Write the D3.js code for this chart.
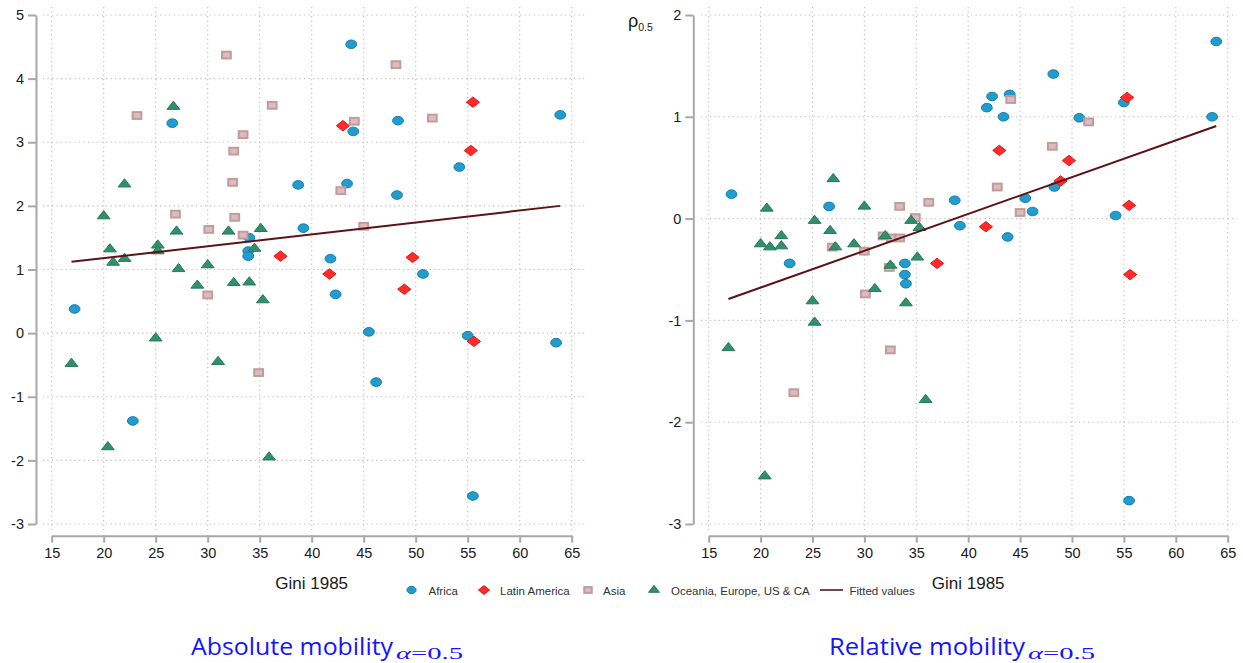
<!DOCTYPE html>
<html><head><meta charset="utf-8">
<script src="https://cdn.jsdelivr.net/npm/d3@7"></script>
<style>
html,body{margin:0;padding:0;background:#fff;}
svg{display:block;}
</style></head>
<body>
<svg id="chart" width="1243" height="663"></svg>
<script>
// ---- Data (Gini 1985, absolute mobility, relative mobility) ----
const africaGini = [17.2, 22.8, 26.6, 33.9, 33.9, 34.0, 38.7, 39.2, 41.8, 42.3, 43.4, 43.8, 44.0, 45.5, 46.2, 48.2, 48.3, 50.7, 54.2, 55.0, 55.5, 63.5, 63.9];
const africaAbs  = [0.38, -1.38, 3.30, 1.29, 1.21, 1.50, 2.33, 1.65, 1.17, 0.61, 2.35, 4.54, 3.17, 0.02, -0.77, 2.17, 3.34, 0.93, 2.61, -0.04, -2.56, -0.15, 3.43];
const africaRel  = [0.24, -0.44, 0.12, -0.44, -0.55, -0.64, 0.18, -0.07, 1.09, 1.20, 1.00, -0.18, 1.22, 0.20, 0.07, 1.42, 0.31, 0.99, 0.03, 1.14, -2.77, 1.00, 1.74];

const latamGini = [37.0, 41.7, 43.0, 48.9, 49.7, 55.3, 55.5, 55.6];
const latamAbs  = [1.21, 0.93, 3.26, 0.69, 1.19, 2.87, 3.63, -0.13];
const latamRel  = [-0.44, -0.08, 0.67, 0.37, 0.57, 1.19, 0.13, -0.55];

const asiaGini = [23.2, 26.9, 30.0, 30.1, 31.8, 32.4, 32.5, 32.6, 33.4, 33.4, 34.9, 36.2, 42.8, 44.1, 45.0, 48.1, 51.6];
const asiaAbs  = [3.42, 1.87, 0.60, 1.63, 4.37, 2.37, 2.86, 1.82, 3.12, 1.54, -0.62, 3.58, 2.24, 3.33, 1.68, 4.22, 3.38];
const asiaRel  = [-1.71, -0.28, -0.32, -0.74, -0.17, -0.48, -1.29, -0.19, 0.12, -0.19, 0.01, 0.16, 0.31, 1.17, 0.06, 0.71, 0.95];

const oecdGini = [16.9, 20.0, 20.4, 20.6, 20.9, 22.0, 22.0, 25.0, 25.2, 25.2, 26.7, 27.0, 27.2, 29.0, 30.0, 31.0, 32.0, 32.5, 34.0, 34.5, 35.1, 35.3, 35.9];
const oecdAbs  = [-0.48, 1.84, -1.79, 1.32, 1.11, 2.34, 1.17, -0.08, 1.38, 1.29, 3.56, 1.60, 1.01, 0.75, 1.07, -0.45, 1.60, 0.79, 0.80, 1.33, 1.64, 0.52, -1.95];
const oecdRel  = [-1.27, -0.25, -2.53, 0.10, -0.28, -0.17, -0.27, -0.81, -0.02, -1.02, -0.12, 0.39, -0.28, -0.25, 0.12, -0.69, -0.17, -0.46, -0.83, -0.02, -0.38, -0.09, -1.78];

const fitGini = [16.9, 63.9];
const fitAbs  = [1.12, 2.00];
const fitRel  = [-0.79, 0.91];

const xTicks = [15, 20, 25, 30, 35, 40, 45, 50, 55, 60, 65];
const yTicksAbs = [-3, -2, -1, 0, 1, 2, 3, 4, 5];
const yTicksRel = [-3, -2, -1, 0, 1, 2];

const legendLabels = ["Africa", "Latin America", "Asia", "Oceania, Europe, US & CA", "Fitted values"];
const xTitle = "Gini 1985";
const panelTitles = ["Absolute mobility", "Relative mobility"];

// ---- Styles ----
const groups = [
  {key: "africa", gini: africaGini, abs: africaAbs, rel: africaRel, shape: "circle"},
  {key: "latam",  gini: latamGini,  abs: latamAbs,  rel: latamRel,  shape: "diamond"},
  {key: "asia",   gini: asiaGini,   abs: asiaAbs,   rel: asiaRel,   shape: "square"},
  {key: "oecd",   gini: oecdGini,   abs: oecdAbs,   rel: oecdRel,   shape: "triangle"}
];
const fitColor = "#5e1117";
const gridColor = "#bdbdbd";
const axisColor = "#a8a8a8";
const tickFont = "'Liberation Sans', Arial, sans-serif";

const svg = d3.select("#chart");

function drawMarker(g, shape, x, y, scale) {
  const s = scale || 1;
  if (shape === "circle") {
    g.append("ellipse").attr("cx", x).attr("cy", y).attr("rx", 5.4 * s).attr("ry", 4.3 * s)
      .attr("fill", "#229ccc").attr("stroke", "#137fb0").attr("stroke-width", 1);
  } else if (shape === "diamond") {
    const w = 6.6 * s, h = 5.2 * s;
    g.append("path").attr("d", `M${x - w},${y}L${x},${y - h}L${x + w},${y}L${x},${y + h}Z`)
      .attr("fill", "#ff2b2b").attr("stroke", "#e81616").attr("stroke-width", 1);
  } else if (shape === "square") {
    const w = 4.4 * s, h = 3.4 * s;
    g.append("rect").attr("x", x - w).attr("y", y - h).attr("width", 2 * w).attr("height", 2 * h)
      .attr("fill", "#dcbcbc").attr("stroke", "#c29c9c").attr("stroke-width", 2);
  } else if (shape === "triangle") {
    const w = 6.4 * s, h = 8.2 * s;
    g.append("path").attr("d", `M${x - w},${y + h / 3}L${x + w},${y + h / 3}L${x},${y - 2 * h / 3}Z`)
      .attr("fill", "#31906c").attr("stroke", "#227a58").attr("stroke-width", 1);
  }
}

function panel(cfg) {
  const x = d3.scaleLinear().domain([15, 65]).range(cfg.xRange);
  const y = d3.scaleLinear().domain(cfg.yDomain).range([524, 15]);
  const g = svg.append("g");

  // grid
  const grid = g.append("g");
  grid.selectAll("line.h").data(cfg.yTicks).join("line")
    .attr("x1", cfg.gridX[0]).attr("x2", cfg.gridX[1])
    .attr("y1", d => y(d)).attr("y2", d => y(d))
    .attr("stroke", gridColor).attr("stroke-width", 1.1).attr("stroke-dasharray", "1.2,3.3");
  grid.selectAll("line.v").data(xTicks).join("line")
    .attr("x1", d => x(d)).attr("x2", d => x(d))
    .attr("y1", 7).attr("y2", 530)
    .attr("stroke", gridColor).attr("stroke-width", 1.1).attr("stroke-dasharray", "1.2,3.3");

  // axes
  const yAxis = g.append("g").attr("transform", `translate(${cfg.yAxisX},0)`)
    .call(d3.axisLeft(y).tickValues(cfg.yTicks).tickSize(8).tickSizeOuter(0).tickPadding(4).tickFormat(d3.format("d")));
  const xAxis = g.append("g").attr("transform", `translate(0,535.7)`)
    .call(d3.axisBottom(x).tickValues(xTicks).tickSize(7).tickSizeOuter(0).tickPadding(5).tickFormat(d3.format("d")));
  [yAxis, xAxis].forEach(a => {
    a.select(".domain").attr("stroke", axisColor).attr("stroke-width", 2);
    a.selectAll(".tick line").attr("stroke", axisColor).attr("stroke-width", 2);
    a.selectAll(".tick text").attr("fill", "#1a1a1a").style("font-family", tickFont).style("font-size", "14.5px");
  });
  yAxis.selectAll(".tick text").text(d => d < 0 ? "-" + Math.abs(d) : d);

  // x title
  g.append("text").attr("x", (cfg.xRange[0] + cfg.xRange[1]) / 2).attr("y", 589)
    .attr("text-anchor", "middle").attr("fill", "#1a1a1a")
    .style("font-family", tickFont).style("font-size", "17px").text(xTitle);

  // points
  const pts = g.append("g");
  groups.forEach(grp => {
    const vals = grp[cfg.key];
    grp.gini.forEach((gv, i) => drawMarker(pts, grp.shape, x(gv), y(vals[i]), 1));
  });

  // fitted line
  const line = d3.line().x(d => x(d[0])).y(d => y(d[1]));
  g.append("path").datum(fitGini.map((gv, i) => [gv, cfg.fit[i]]))
    .attr("d", line).attr("fill", "none").attr("stroke", fitColor).attr("stroke-width", 2);

  // title
  g.append("text").attr("x", cfg.titleX).attr("y", 655)
    .attr("fill", "#1414ff").style("font-family", "'Open Sans', 'Noto Sans', sans-serif")
    .style("font-size", "24px").attr("textLength", cfg.titleLen).attr("lengthAdjust", "spacingAndGlyphs")
    .text(cfg.title);
  const sub = g.append("text").attr("x", cfg.titleX + cfg.titleLen + 3).attr("y", 658.5)
    .attr("fill", "#1414ff").style("font-family", "'Liberation Serif', 'DejaVu Serif', serif")
    .style("font-size", "17px").attr("textLength", 67).attr("lengthAdjust", "spacingAndGlyphs");
  sub.append("tspan").style("font-style", "italic").text("α");
  sub.append("tspan").text("=0.5");
  return {x, y};
}

panel({key: "abs", xRange: [51.7, 571.7], yDomain: [-3, 5], yTicks: yTicksAbs, gridX: [43, 587],
       yAxisX: 36, fit: fitAbs, title: panelTitles[0], titleX: 191, titleLen: 202});
panel({key: "rel", xRange: [708.7, 1227.7], yDomain: [-3, 2], yTicks: yTicksRel, gridX: [701, 1237],
       yAxisX: 693.3, fit: fitRel, title: panelTitles[1], titleX: 829, titleLen: 196});

// rho label
const rho = svg.append("text").attr("x", 628).attr("y", 27).attr("fill", "#1a1a1a").style("font-family", tickFont);
rho.append("tspan").style("font-size", "18px").text("ρ");
rho.append("tspan").style("font-size", "10.5px").attr("dy", 4).text("0.5");

// legend
const leg = svg.append("g").style("font-family", tickFont).style("font-size", "11.5px");
const legendSym = [411.5, 484, 588, 654];
const legendTxt = [428.5, 500, 603, 671, 849.5];
groups.forEach((grp, i) => drawMarker(leg, grp.shape, legendSym[i], 590, 0.85));
leg.append("line").attr("x1", 820).attr("x2", 843).attr("y1", 590).attr("y2", 590)
  .attr("stroke", fitColor).attr("stroke-width", 1.6);
legendLabels.forEach((lab, i) => {
  leg.append("text").attr("x", legendTxt[i]).attr("y", 594.5).attr("fill", "#333").text(lab);
});
</script>
</body></html>
